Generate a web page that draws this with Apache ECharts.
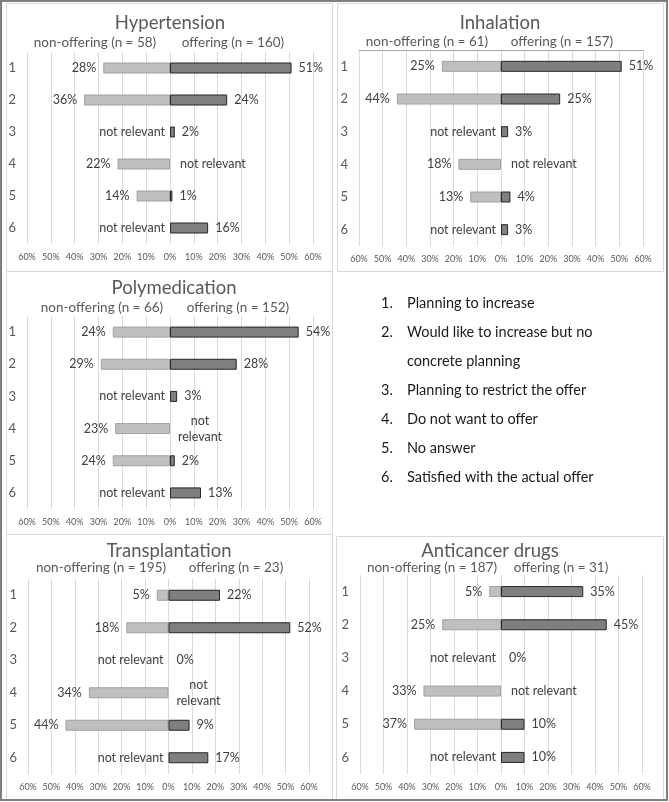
<!DOCTYPE html>
<html><head><meta charset="utf-8">
<script src="https://cdn.jsdelivr.net/npm/echarts@6/dist/echarts.min.js"></script>
<style>html,body{margin:0;padding:0;background:#fff}#c{width:669px;height:802px}</style>
</head><body><div id="c"></div>
<script>
// ---- data ----
const categories = ['1', '2', '3', '4', '5', '6'];
const panelTitles = ['Hypertension', 'Inhalation', 'Polymedication', 'Transplantation', 'Anticancer drugs'];
const nonOfferingN = [58, 61, 66, 195, 187];
const offeringN = [160, 157, 152, 23, 31];
// null = "not relevant"
const hypertensionNon = [28, 36, null, 22, 14, null];
const hypertensionOff = [51, 24, 2, null, 1, 16];
const inhalationNon = [25, 44, null, 18, 13, null];
const inhalationOff = [51, 25, 3, null, 4, 3];
const polymedicationNon = [24, 29, null, 23, 24, null];
const polymedicationOff = [54, 28, 3, null, 2, 13];
const transplantationNon = [5, 18, null, 34, 44, null];
const transplantationOff = [22, 52, 0, null, 9, 17];
const anticancerNon = [5, 25, null, 33, 37, null];
const anticancerOff = [35, 45, 0, null, 10, 10];
const legendItems = [
  'Planning to increase',
  'Would like to increase but no\nconcrete planning',
  'Planning to restrict the offer',
  'Do not want to offer',
  'No answer',
  'Satisfied with the actual offer'
];
const nonValues = [hypertensionNon, inhalationNon, polymedicationNon, transplantationNon, anticancerNon];
const offValues = [hypertensionOff, inhalationOff, polymedicationOff, transplantationOff, anticancerOff];

// ---- layout / style ----
const FONT = 'Lato';
const layouts = [
  {gl: 27, gw: 286, gt: 52, gh: 192, title: [170, 23], non: [95, 43], off: [233, 43], wrap: false, topLine: false},
  {gl: 359, gw: 284, gt: 50, gh: 196, title: [500, 23], non: [427, 42], off: [562, 42], wrap: false, topLine: true},
  {gl: 27, gw: 286, gt: 316, gh: 193, title: [174, 288], non: [102, 308], off: [238, 308], wrap: true, topLine: false},
  {gl: 28, gw: 281, gt: 579, gh: 195, title: [169, 551], non: [101, 568], off: [236, 568], wrap: true, topLine: false},
  {gl: 360, gw: 282, gt: 575, gh: 199, title: [490, 551], non: [432, 568], off: [561, 568], wrap: false, topLine: false}
];
const panels = [
  [6.5, 3.5, 326, 268], [337.5, 3.5, 326, 268], [6.5, 271.5, 326, 263],
  [6.5, 534.5, 326, 265], [336.5, 536.5, 327, 263]
];

const grids = [], xAxes = [], yAxes = [], series = [], graphics = [];
const labelBase = {show: true, color: '#404040', fontSize: 12.5, fontFamily: FONT};

layouts.forEach((L, i) => {
  grids.push({left: L.gl, top: L.gt, width: L.gw, height: L.gh});
  xAxes.push({
    type: 'value', gridIndex: i, min: -60, max: 60, interval: 10,
    axisLine: {show: false}, axisTick: {show: false},
    splitLine: {lineStyle: {color: '#d9d9d9', width: 1}},
    axisLabel: {formatter: v => Math.abs(v) + '%', color: '#595959', fontSize: 9, fontFamily: FONT, margin: 9}
  });
  yAxes.push({
    type: 'category', gridIndex: i, data: categories, inverse: true,
    axisLine: {show: false}, axisTick: {show: false}, splitLine: {show: false},
    axisLabel: {color: '#595959', fontSize: 13, fontFamily: FONT, margin: 11}
  });
  series.push({
    type: 'bar', xAxisIndex: i, yAxisIndex: i, barWidth: 11, barGap: '-100%',
    itemStyle: {color: '#bfbfbf', borderColor: '#a0a0a0', borderWidth: 1},
    label: Object.assign({}, labelBase, {position: 'left', distance: 7, formatter: p => Math.abs(p.value) + '%'}),
    data: nonValues[i].map(v => v === null
      ? {value: 0, itemStyle: {borderWidth: 0}, label: {formatter: 'not relevant', distance: 5}}
      : -v)
  });
  series.push({
    type: 'bar', xAxisIndex: i, yAxisIndex: i, barWidth: 11, barGap: '-100%',
    itemStyle: {color: '#7f7f7f', borderColor: '#262626', borderWidth: 1},
    label: Object.assign({}, labelBase, {position: 'right', distance: 7, formatter: p => Math.abs(p.value) + '%'}),
    data: offValues[i].map(v => {
      if (v === null) {
        return L.wrap
          ? {value: 0, itemStyle: {borderWidth: 0}, label: {formatter: 'not\nrelevant', position: [30, 5.5], align: 'center', verticalAlign: 'middle', lineHeight: 16}}
          : {value: 0, itemStyle: {borderWidth: 0}, label: {formatter: 'not relevant', distance: 10}};
      }
      if (v === 0) return {value: 0, itemStyle: {borderWidth: 0}, label: {distance: 8}};
      return v;
    })
  });
  graphics.push({type: 'text', x: L.title[0], y: L.title[1], silent: true,
    style: {text: panelTitles[i], fill: '#595959', font: '18.5px ' + FONT, textAlign: 'center', textVerticalAlign: 'middle'}});
  graphics.push({type: 'text', x: L.non[0], y: L.non[1], silent: true,
    style: {text: 'non-offering (n = ' + nonOfferingN[i] + ')', fill: '#595959', font: '13.5px ' + FONT, textAlign: 'center', textVerticalAlign: 'middle'}});
  graphics.push({type: 'text', x: L.off[0], y: L.off[1], silent: true,
    style: {text: 'offering (n = ' + offeringN[i] + ')', fill: '#595959', font: '13.5px ' + FONT, textAlign: 'center', textVerticalAlign: 'middle'}});
});

// extra top axis line on Inhalation panel
layouts.forEach((L, i) => {
  if (L.topLine) {
    xAxes.push({type: 'value', gridIndex: i, position: 'top', min: -60, max: 60,
      axisLine: {show: true, lineStyle: {color: '#a6a6a6'}}, axisTick: {show: false},
      axisLabel: {show: false}, splitLine: {show: false}});
  }
});

panels.forEach(p => graphics.push({type: 'rect', silent: true, z: -1,
  shape: {x: p[0], y: p[1], width: p[2], height: p[3]},
  style: {fill: 'none', stroke: '#d9d9d9', lineWidth: 1}}));
graphics.push({type: 'rect', silent: true,
  shape: {x: 1, y: 1, width: 666, height: 799},
  style: {fill: 'none', stroke: '#7f7f7f', lineWidth: 2}});

let ly = 303;
legendItems.forEach((t, k) => {
  graphics.push({type: 'text', x: 381, y: ly - 14.5, silent: true,
    style: {text: (k + 1) + '.', fill: '#1a1a1a', font: '14.5px ' + FONT, textVerticalAlign: 'top', lineHeight: 29}});
  graphics.push({type: 'text', x: 407, y: ly - 14.5, silent: true,
    style: {text: t, fill: '#1a1a1a', font: '14.5px ' + FONT, textVerticalAlign: 'top', lineHeight: 29}});
  ly += 29 * t.split('\n').length;
});

const chart = echarts.init(document.getElementById('c'), null, {renderer: 'canvas'});
chart.setOption({
  animation: false,
  backgroundColor: '#fff',
  grid: grids, xAxis: xAxes, yAxis: yAxes, series: series,
  graphic: graphics
});
</script></body></html>
